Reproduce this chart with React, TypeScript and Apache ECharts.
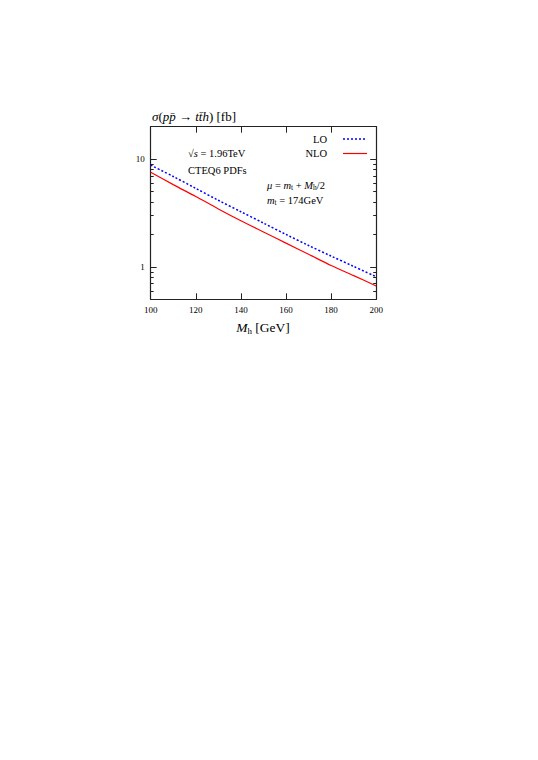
import React, { useEffect, useRef } from "react";
import * as echarts from "echarts";

const masses = [100, 110, 120, 130, 140, 150, 160, 170, 180, 190, 200];
const sigmaLO = [8.8, 6.9, 5.35, 4.15, 3.25, 2.55, 2.0, 1.58, 1.26, 1.01, 0.81];
const sigmaNLO = [7.55, 5.8, 4.5, 3.45, 2.68, 2.11, 1.66, 1.31, 1.03, 0.83, 0.665];
const yMajorTicks = [1, 10];
const yMinorTicks = [0.6, 0.7, 0.8, 0.9, 2, 3, 4, 5, 6, 7, 8, 9];
const xTicks = { min: 100, max: 200, interval: 20 };
const yRange = { min: 0.5, max: 20 };

const SERIF = "'Liberation Serif', 'DejaVu Serif', serif";
const AXIS_COLOR = "#222";

export default function App() {
  const ref = useRef<HTMLDivElement>(null);
  useEffect(() => {
    if (!ref.current) return;
    const chart = echarts.init(ref.current, undefined, { renderer: "svg" });
    const gridL = 150.7, gridT = 126.7, gridW = 225.5, gridH = 172.6;

    const baseY = (pos: string, major: boolean, labels: boolean) => ({
      type: "log",
      logBase: 10,
      min: yRange.min,
      max: yRange.max,
      position: pos,
      axisLine: { show: major, lineStyle: { color: AXIS_COLOR, width: 1.2 } },
      axisTick: {
        show: true,
        inside: true,
        length: major ? 6 : 3,
        customValues: major ? yMajorTicks : yMinorTicks,
        lineStyle: { color: AXIS_COLOR, width: 1 },
      },
      axisLabel: {
        show: labels,
        customValues: yMajorTicks,
        margin: 6,
        fontFamily: SERIF,
        fontSize: 9,
        color: "#000",
        formatter: (v: number) => (Math.abs(v - 1) < 1e-6 ? "1" : Math.abs(v - 10) < 1e-6 ? "10" : ""),
      },
      splitLine: { show: false },
      minorTick: { show: false },
    });

    const baseX = (pos: string, labels: boolean) => ({
      type: "value",
      min: xTicks.min,
      max: xTicks.max,
      interval: xTicks.interval,
      position: pos,
      axisLine: { show: true, lineStyle: { color: AXIS_COLOR, width: 1.2 } },
      axisTick: { show: true, inside: true, length: 6, lineStyle: { color: AXIS_COLOR, width: 1 } },
      axisLabel: { show: labels, margin: 6, fontFamily: SERIF, fontSize: 9, color: "#000" },
      splitLine: { show: false },
    });

    const mainText = { fontFamily: SERIF, fontSize: 10.5, color: "#000", lineHeight: 13 };
    const italic = { ...mainText, fontStyle: "italic" };
    const sub = { fontFamily: SERIF, fontSize: 7.5, color: "#000", lineHeight: 8, verticalAlign: "bottom" };

    chart.setOption({
      animation: false,
      backgroundColor: "#fff",
      grid: { left: gridL, top: gridT, width: gridW, height: gridH, containLabel: false, outerBoundsMode: "none" },
      xAxis: [baseX("bottom", true), baseX("top", false)],
      yAxis: [baseY("left", true, true), baseY("left", false, false), baseY("right", true, false), baseY("right", false, false)],
      series: [
        {
          name: "LO",
          type: "line",
          xAxisIndex: 0,
          yAxisIndex: 0,
          symbol: "none",
          smooth: 0.3,
          lineStyle: { color: "#0000ff", width: 1.5, type: [2, 2] },
          data: masses.map((m, i) => [m, sigmaLO[i]]),
        },
        {
          name: "NLO",
          type: "line",
          xAxisIndex: 0,
          yAxisIndex: 0,
          symbol: "none",
          smooth: 0.3,
          lineStyle: { color: "#ff0000", width: 1.2 },
          data: masses.map((m, i) => [m, sigmaNLO[i]]),
        },
      ],
      graphic: [
        {
          type: "text",
          x: 152,
          y: 116,
          style: {
            text: "{i|σ}{r|(}{i|pp̄}{r| → }{i|tt̄h}{r|) [fb]}",
            verticalAlign: "middle",
            rich: {
              i: { fontFamily: SERIF, fontSize: 13, fontStyle: "italic", color: "#000" },
              r: { fontFamily: SERIF, fontSize: 13, color: "#000" },
            },
          },
        },
        {
          type: "text",
          x: 263,
          y: 327,
          style: {
            text: "{i|M}{s|h}{r| [GeV]}",
            align: "center",
            verticalAlign: "middle",
            rich: {
              i: { fontFamily: SERIF, fontSize: 13.5, fontStyle: "italic", color: "#000", lineHeight: 16 },
              r: { fontFamily: SERIF, fontSize: 13.5, color: "#000", lineHeight: 16 },
              s: { fontFamily: SERIF, fontSize: 9, color: "#000", lineHeight: 10, verticalAlign: "bottom" },
            },
          },
        },
        {
          type: "text",
          x: 188,
          y: 153,
          style: {
            text: "{r|√}{i|s}{r| = 1.96TeV}",
            verticalAlign: "middle",
            rich: { r: mainText, i: italic },
          },
        },
        {
          type: "text",
          x: 188,
          y: 170,
          style: { text: "CTEQ6 PDFs", verticalAlign: "middle", ...mainText },
        },
        {
          type: "text",
          x: 267,
          y: 185,
          style: {
            text: "{i|μ}{r| = }{i|m}{s|t}{r| + }{i|M}{s|h}{r|/2}",
            verticalAlign: "middle",
            rich: { r: mainText, i: italic, s: sub },
          },
        },
        {
          type: "text",
          x: 267,
          y: 200,
          style: {
            text: "{i|m}{s|t}{r| = 174GeV}",
            verticalAlign: "middle",
            rich: { r: mainText, i: italic, s: sub },
          },
        },
        {
          type: "text",
          x: 327,
          y: 139,
          style: { text: "LO", align: "right", verticalAlign: "middle", ...mainText },
        },
        {
          type: "line",
          shape: { x1: 343, y1: 139, x2: 367, y2: 139 },
          style: { stroke: "#0000ff", lineWidth: 1.5, lineDash: [2, 2] },
        },
        {
          type: "text",
          x: 327,
          y: 153.5,
          style: { text: "NLO", align: "right", verticalAlign: "middle", ...mainText },
        },
        {
          type: "line",
          shape: { x1: 343, y1: 153.5, x2: 367, y2: 153.5 },
          style: { stroke: "#ff0000", lineWidth: 1.2 },
        },
      ],
    });
    return () => chart.dispose();
  }, []);
  return (
    <div
      ref={ref}
      style={{ position: "absolute", left: 0, top: 0, width: 538, height: 760 }}
    />
  );
}
